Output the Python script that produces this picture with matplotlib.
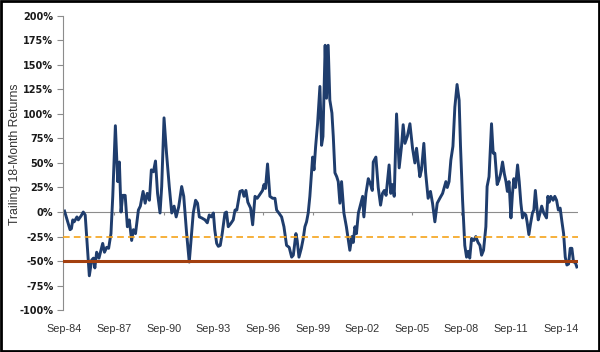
import numpy as np
import matplotlib
matplotlib.use("Agg")
import matplotlib.pyplot as plt
from matplotlib.patches import Rectangle

# (months since Sep-84, trailing 18-month return %)
late_80s = [(0, 1), (4, -18), (5, -17), (6, -8), (7, -10), (9, -5), (10, -8), (12, -4),
            (13.6, 0), (15, -3), (18, -65), (19.7, -49), (21, -47), (22, -57), (23.3, -41),
            (25, -47), (27.7, -32), (29, -41), (30.6, -36), (32, -37), (33.7, -22),
            (35, 16), (36, 53), (36.9, 88), (38.6, 31), (39.8, 51), (41, 0), (42.2, 17),
            (44, 17), (45.6, -15), (47, -8), (48.7, -29), (50, -18), (51.5, -22),
            (53.6, 2), (55, 6), (57, 21), (58.5, 9), (60, 19), (61.6, 12), (63, 43),
            (64.5, 41), (66, 52), (67.5, 19), (69.3, -1), (70.5, 26)]
the_90s = [(72.2, 96), (74, 60), (76, 26), (77.8, -1), (79.5, 6), (81, -5), (82.8, 5),
           (85, 26), (86.5, 16), (88.6, -22), (90.5, -51), (92.2, -22), (93.4, -1),
           (95.1, 12), (96.5, 9), (97.8, -5), (99.5, -6), (101.9, -8), (103.6, -11),
           (105, -3), (106.5, -5), (108, -1), (109, -18), (110.4, -32), (111.6, -35),
           (113, -34), (114.4, -22), (116.4, -1), (117.5, 0), (118.8, -15), (120.5, -12),
           (122.4, -8), (123.7, 2), (125, 2), (127.3, 21), (129, 22), (130.2, 16),
           (131.6, 22), (133, 10), (135, 4), (136.5, -13), (138.2, 16), (139.8, 14),
           (141.3, 17), (143.7, 22), (144.7, 28), (145.8, 24), (147.3, 49), (149, 16),
           (151, 14), (152.7, 14), (153.9, 2), (155.5, -1), (157.5, -5), (159.2, -15),
           (161.1, -34), (163, -36), (164.8, -46), (166, -44), (167.9, -22),
           (168.8, -29), (170.1, -46), (171.8, -37), (173.2, -27), (174.4, -15),
           (175.6, -10), (176.8, -1), (178, 16), (179.3, 43), (180, 56), (181, 43),
           (182.2, 67), (183.6, 90), (185.3, 128), (186.5, 68), (187.5, 77),
           (188.7, 145), (189.1, 170), (190.1, 116), (191.3, 170), (192.5, 114)]
the_00s = [(194, 101), (195, 77), (196.2, 40), (197.5, 36), (198.6, 31), (199.8, 9),
           (201, 31), (202.7, -1), (204.5, -15), (207, -39), (208.5, -25), (209.5, -31),
           (210.7, -15), (211.8, -22), (213.2, -1), (214.3, 5), (216.3, 16), (217.2, -5),
           (218.7, 19), (220.4, 34), (221.6, 30), (223.3, 22), (224, 51), (225.9, 56),
           (227.6, 25), (229.3, 7), (230.7, 19), (232, 22), (233.3, 17), (235.5, 48),
           (236.7, 19), (238, 28), (239.2, 16), (240.9, 100), (242.8, 45), (244.5, 67),
           (245.7, 89), (247, 70), (248.7, 77), (250.6, 90), (252.5, 65), (254.2, 50),
           (255.4, 65), (257.8, 36), (259, 43), (260.7, 70), (262, 40), (263.8, 14),
           (265.5, 21), (267, 9), (268.7, -10), (270.4, 9), (272.3, 14), (274.3, 19),
           (276.7, 31), (277.7, 25), (279, 31), (280.3, 53), (281.8, 67), (283.2, 107),
           (284.8, 130), (286.3, 114), (287.3, 67), (288.8, 12), (290.4, -34),
           (291.7, -46), (292.9, -40), (294, -47), (295.3, -27), (297, -29),
           (298.4, -25), (300, -31), (301.4, -34), (302.6, -44), (304, -39),
           (305.7, -15), (306.6, 26), (308, 36), (309.8, 90), (311, 60), (312.2, 60)]
the_10s = [(313.9, 28), (315.3, 33), (316.4, 39), (317.8, 51), (319.1, 39), (320.3, 31),
           (321.3, 21), (322.5, 31), (323.9, -6), (325, 19), (326, 34), (327.2, 25),
           (328.7, 48), (329.9, 31), (331.1, 9), (332.3, -6), (333.2, -1), (334.7, -3),
           (335.6, -10), (336.9, -23), (338.1, -12), (339.5, -1), (340.5, 2),
           (341.6, 22), (342.9, 2), (343.7, -8), (345, -1), (346.2, 6), (347.7, -1),
           (349.7, -6), (350.7, 16), (351.6, 10), (352.8, 16), (354.5, 12), (355.7, 16),
           (357, 12), (358.3, 2), (359.6, 4), (360.9, -10), (362.1, -22), (363.3, -46),
           (364.5, -54), (365.7, -53), (366.9, -37), (368.1, -37), (369.3, -51),
           (370.5, -51), (371.7, -56)]

tick_months = [0, 36, 72, 108, 144, 180, 216, 252, 288, 324, 360]
tick_labels = ['Sep-84', 'Sep-87', 'Sep-90', 'Sep-93', 'Sep-96', 'Sep-99',
               'Sep-02', 'Sep-05', 'Sep-08', 'Sep-11', 'Sep-14']
y_ticks = [-100, -75, -50, -25, 0, 25, 50, 75, 100, 125, 150, 175, 200]
warn_level = -25
stop_level = -50

months, returns = zip(*(late_80s + the_90s + the_00s + the_10s))

plt.rcParams['font.family'] = ['Liberation Sans', 'DejaVu Sans']

fig = plt.figure(figsize=(6, 3.52), dpi=100)
ax = fig.add_axes([0.105, 0.119, 0.858, 0.836])

ax.axhline(0, color='#8c8c8c', lw=0.8, zorder=1)
ax.vlines(tick_months, -3, 0, color='#8c8c8c', lw=0.8, zorder=1)
ax.plot(months, returns, color='#1f3d6d', lw=2.1, zorder=2, solid_joinstyle='round')
ax.axhline(warn_level, color='#f5a31a', lw=1.2, ls=(0, (4, 2.5)), zorder=3)
ax.axhline(stop_level, color='#a3400f', lw=2.2, zorder=3)

ax.set_xlim(-1.1, 372.4)
ax.set_ylim(-100, 200)
ax.set_yticks(y_ticks)
ax.set_yticklabels([f'{v}%' for v in y_ticks], fontweight='bold', fontsize=7,
                   family='DejaVu Sans', color='#1a1a1a')
ax.set_xticks(tick_months)
ax.set_xticklabels(tick_labels, fontsize=7.8, color='#333333')
ax.tick_params(axis='x', length=0, pad=10)
ax.tick_params(axis='y', length=4, width=0.8, color='#8c8c8c', pad=3)
for s in ['top', 'right', 'bottom']:
    ax.spines[s].set_visible(False)
ax.spines['left'].set_color('#8c8c8c')
ax.spines['left'].set_linewidth(0.8)
ax.set_ylabel('Trailing 18-Month Returns', fontsize=8.8, color='#333333')
ax.yaxis.set_label_coords(-0.081, 0.53)

fig.patches.append(Rectangle((0.002, 0.004), 0.996, 0.992, transform=fig.transFigure,
                             fill=False, edgecolor='black', lw=2))

fig.savefig('out.png', dpi=100)
